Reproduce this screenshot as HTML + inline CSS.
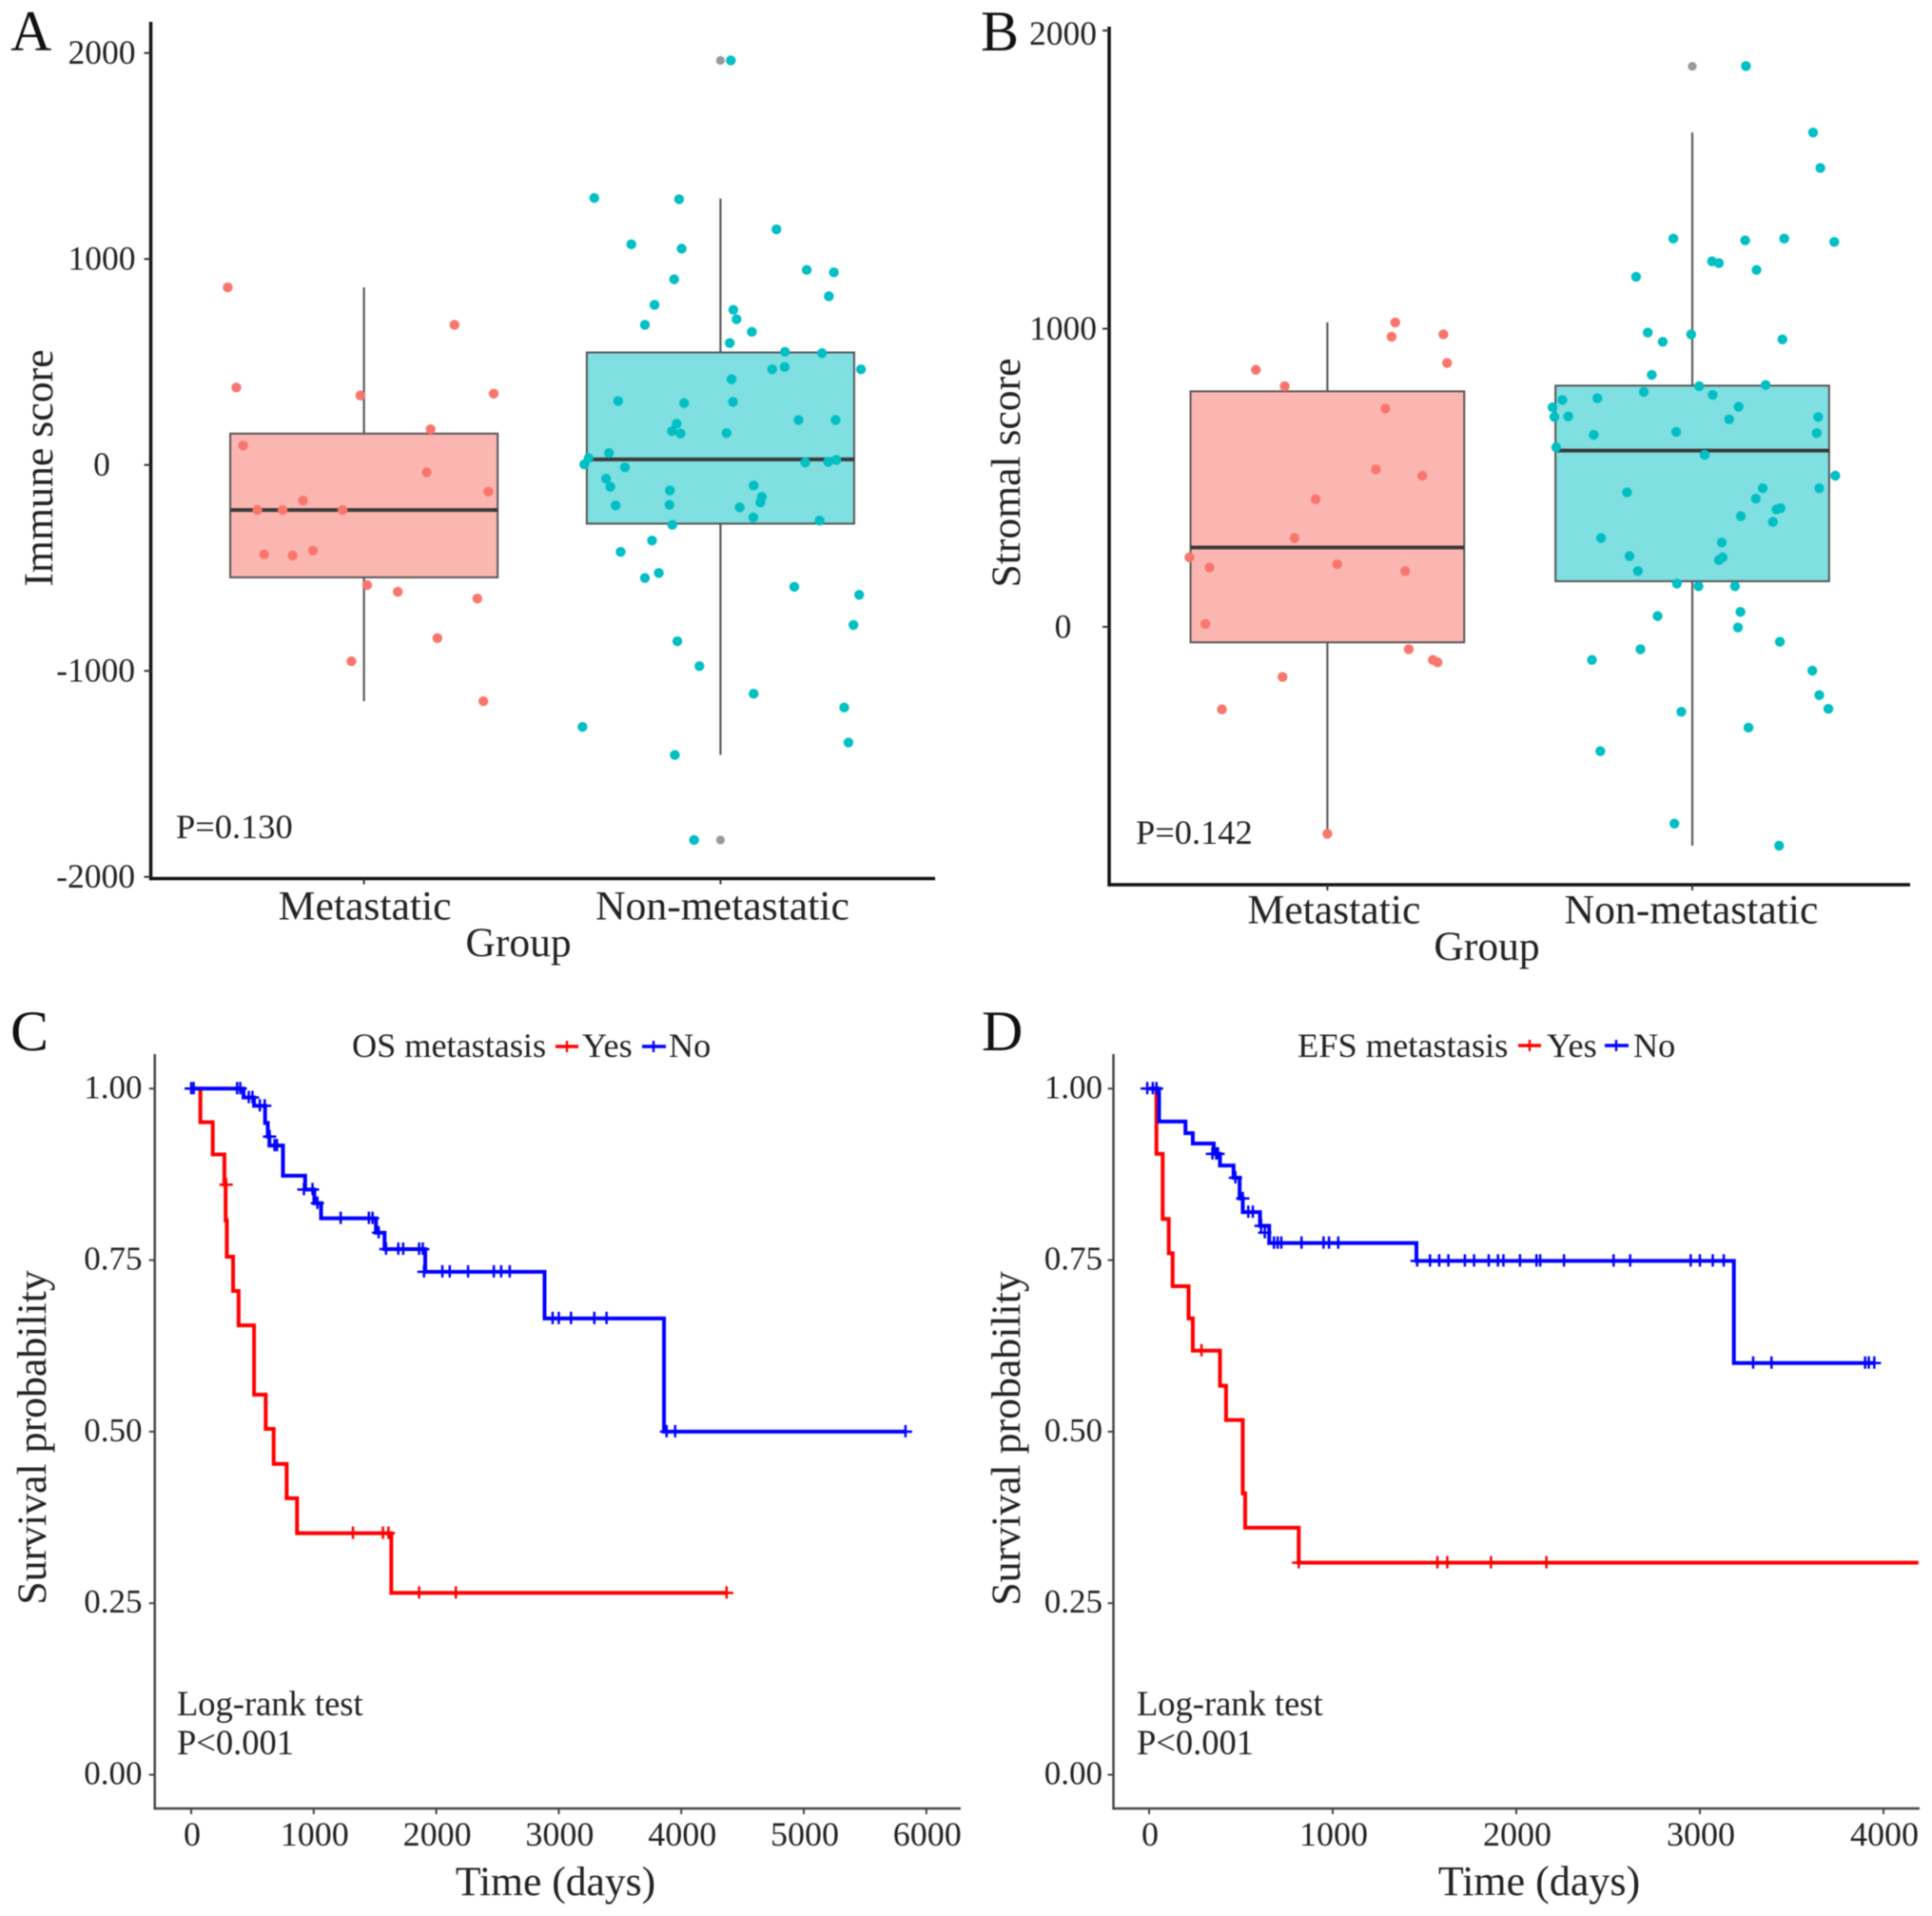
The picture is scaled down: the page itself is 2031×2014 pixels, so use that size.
<!DOCTYPE html>
<html lang="en">
<head>
<meta charset="utf-8">
<title>Immune and stromal scores and survival by metastasis</title>
<style>
html,body{margin:0;padding:0;background:#fff;}
svg{display:block;font-family:"Liberation Serif",serif;fill:#222;filter:blur(0.5px);}
</style>
</head>
<body>
<svg id="figure" width="2031" height="2014" viewBox="0 0 2031 2014" xmlns="http://www.w3.org/2000/svg">
  <rect width="2031" height="2014" fill="#fff"/>
  <text x="11" y="53" font-size="60" fill="#111">A</text>
  <text x="1031" y="53" font-size="60" fill="#111">B</text>
  <text x="11" y="1104" font-size="60" fill="#111">C</text>
  <text x="1032" y="1104" font-size="60" fill="#111">D</text>
  <text transform="translate(55,492) rotate(-90)" text-anchor="middle" font-size="43.8">Immune score</text>
  <text x="545" y="1005" text-anchor="middle" font-size="43.5">Group</text>
  <text x="185" y="881" font-size="36.4">P=0.130</text>
  <text transform="translate(1072,497) rotate(-90)" text-anchor="middle" font-size="43.6">Stromal score</text>
  <text x="1563" y="1009" text-anchor="middle" font-size="43.5">Group</text>
  <text x="1194" y="887" font-size="36.4">P=0.142</text>
  <text transform="translate(48,1511) rotate(-90)" text-anchor="middle" font-size="43.8">Survival probability</text>
  <text x="584" y="1992" text-anchor="middle" font-size="43.6">Time (days)</text>
  <text x="186" y="1803" font-size="36.5">Log-rank test</text>
  <text x="186" y="1844" font-size="36.5">P&lt;0.001</text>
  <text transform="translate(1072,1512) rotate(-90)" text-anchor="middle" font-size="43.8">Survival probability</text>
  <text x="1618" y="1992" text-anchor="middle" font-size="44">Time (days)</text>
  <text x="1195" y="1803" font-size="36.5">Log-rank test</text>
  <text x="1195" y="1844" font-size="36.5">P&lt;0.001</text>
  <g>
    <text x="370" y="1111" font-size="36.2">OS metastasis</text>
    <line x1="584" x2="608" y1="1100" y2="1100" stroke="#f00" stroke-width="3.5"/>
    <line x1="596" x2="596" y1="1094" y2="1106" stroke="#f00" stroke-width="2.4"/>
    <text x="612" y="1111" font-size="36.2">Yes</text>
    <line x1="675" x2="700" y1="1100" y2="1100" stroke="#00f" stroke-width="3.5"/>
    <line x1="687" x2="687" y1="1094" y2="1106" stroke="#00f" stroke-width="2.4"/>
    <text x="703" y="1111" font-size="36.2">No</text>
  </g>
  <g>
    <text x="1364" y="1111" font-size="36.4">EFS metastasis</text>
    <line x1="1596" x2="1620" y1="1099" y2="1099" stroke="#f00" stroke-width="3.5"/>
    <line x1="1608" x2="1608" y1="1093" y2="1105" stroke="#f00" stroke-width="2.4"/>
    <text x="1626" y="1111" font-size="36.2">Yes</text>
    <line x1="1687" x2="1712" y1="1099" y2="1099" stroke="#00f" stroke-width="3.5"/>
    <line x1="1699" x2="1699" y1="1093" y2="1105" stroke="#00f" stroke-width="2.4"/>
    <text x="1717" y="1111" font-size="36.2">No</text>
  </g>
</svg>
<script>
// ---------- Panel A: immune score ----------
const groupLabels = ['Metastatic', 'Non-metastatic'];
const immuneTicks = [2000, 1000, 0, -1000, -2000];
const immuneMetBox = [-1147, -546, -219, 152, 862];
const immuneNonBox = [-1408, -285, 27, 546, 1293];
const immuneNonOutliers = [1964, -1821];
const immuneMetJitter = [-.382,-.358,-.339,-.299,-.228,-.171,-.060,-.280,-.200,-.143,-.010,.364,.187,.254,.176,.349,.009,.095,.318,.206,-.035,.335];
const immuneMetScore = [862,376,94,-219,-219,-173,-219,-434,-440,-416,337,346,173,680,-36,-130,-583,-616,-649,-841,-953,-1147];
const immuneNonJitter = [.029,-.354,-.116,.157,-.250,-.109,.242,.318,-.130,.304,-.185,.036,.045,-.212,.088,.026,.181,.285,.394,.145,.180,.031,-.287,-.102,.035,.219,.323,-.123,-.136,-.112,.017,-.313,-.370,-.382,.238,.302,.325,-.268,-.321,-.309,.093,-.142,.116,.112,-.143,-.294,.054,.092,.278,-.135,-.192,-.280,-.173,-.212,.207,.389,.373,-.121,-.059,.093,.347,-.387,.359,-.128,-.074];
const immuneNonScore = [1964,1296,1290,1144,1071,1050,947,935,901,819,777,753,707,680,646,592,549,543,464,464,476,416,310,300,306,218,218,200,164,152,155,58,33,3,12,15,24,-12,-67,-106,-100,-124,-155,-182,-194,-197,-206,-255,-270,-291,-367,-422,-525,-549,-592,-631,-777,-856,-977,-1111,-1178,-1272,-1348,-1408,-1821];

// ---------- Panel B: stromal score ----------
const stromalTicks = [2000, 1000, 0];
const stromalMetBox = [-694, -52, 266, 790, 1021];
const stromalNonBox = [-734, 153, 591, 809, 1658];
const stromalNonOutliers = [1880];
const stromalMetJitter = [.186,.176,.318,.328,-.196,-.117,.159,.133,.260,-.032,-.090,-.378,-.323,.027,.213,-.334,.223,.289,.302,-.123,-.289,0];
const stromalMetScore = [1021,973,981,885,862,807,732,528,507,428,298,233,199,210,187,10,-75,-111,-119,-168,-277,-694];
const stromalNonJitter = [.147,.331,.351,-.052,.145,.252,.389,.054,.073,.176,-.154,-.122,-.003,-.081,.247,-.111,.019,.201,-.133,.056,-.260,-.356,-.383,.127,-.378,-.340,.345,.101,-.044,.341,-.270,-.373,.034,.392,.348,.193,-.179,.174,.242,.231,.133,.221,-.250,.081,.083,.073,-.172,-.149,-.042,.017,.117,.132,-.095,.125,.240,-.142,-.275,.329,.348,.373,-.030,.154,-.252,-.049,.238];
const stromalNonScore = [1881,1658,1539,1302,1296,1302,1291,1226,1220,1197,1174,987,981,956,964,845,807,811,788,778,767,761,736,738,704,706,704,696,654,650,644,602,577,507,465,465,451,430,398,394,371,352,298,283,233,224,237,187,145,136,136,50,36,-2,-50,-75,-111,-147,-229,-275,-285,-338,-417,-660,-734];

// ---------- Panel C: overall survival ----------
const survivalTicks = [1, 0.75, 0.5, 0.25, 0];
const osTimeTicks = [0, 1000, 2000, 3000, 4000, 5000, 6000];
const osYesTimes = [0,75,176,271,281,291,342,387,513,608,673,779,864,1633,4370];
const osYesSurv = [1,.951,.904,.860,.808,.755,.705,.655,.554,.504,.453,.403,.352,.265,.265];
const osYesCensorTimes = [285,1320,1565,1610,1860,2160,4370];
const osYesCensorSurv = [.860,.352,.352,.352,.265,.265,.265];
const osNoTimes = [0,427,513,603,625,638,749,930,1005,1060,1508,1578,1910,2884,3859,5830];
const osNoSurv = [1,.987,.975,.95,.93,.917,.873,.853,.833,.811,.79,.766,.733,.665,.5,.5];
const osNoCensorTimes = [0,20,375,400,470,500,560,600,640,680,700,920,990,1030,1220,1450,1480,1530,1590,1690,1730,1860,1890,1900,2050,2110,2260,2470,2530,2600,2950,3000,3100,3290,3390,3880,3950,5830];
const osNoCensorSurv = [1,1,1,1,.987,.987,.975,.975,.93,.917,.917,.853,.853,.833,.811,.811,.811,.79,.766,.766,.766,.766,.766,.733,.733,.733,.733,.733,.733,.733,.665,.665,.665,.665,.665,.5,.5,.5];

// ---------- Panel D: event-free survival ----------
const efsTimeTicks = [0, 1000, 2000, 3000, 4000];
const efsYesTimes = [0,40,74,107,128,215,238,386,419,510,523,815,4190];
const efsYesSurv = [1,.905,.81,.76,.712,.665,.618,.567,.517,.41,.36,.309,.309];
const efsYesCensorTimes = [285,815,1570,1624,1862,2164];
const efsYesCensorSurv = [.618,.309,.309,.309,.309,.309];
const efsNoTimes = [0,54,198,238,352,386,460,493,510,544,604,654,1456,3185,3950];
const efsNoSurv = [1,.952,.935,.92,.905,.888,.87,.84,.82,.82,.80,.775,.749,.6,.6];
const efsNoCensorTimes = [-10,20,40,345,365,375,470,510,540,565,610,630,680,700,720,830,950,980,1030,1460,1530,1580,1630,1720,1770,1850,1900,1930,2020,2110,2130,2260,2530,2620,2950,3000,3070,3130,3290,3390,3900,3920,3950];
const efsNoCensorSurv = [1,1,1,.905,.905,.905,.87,.84,.82,.82,.80,.79,.775,.775,.775,.775,.775,.775,.775,.749,.749,.749,.749,.749,.749,.749,.749,.749,.749,.749,.749,.749,.749,.749,.749,.749,.749,.749,.6,.6,.6,.6,.6];

const SVGNS = 'http://www.w3.org/2000/svg';
const figure = document.getElementById('figure');

function mk(tag, parent, attrs) {
  const el = document.createElementNS(SVGNS, tag);
  for (const k in attrs) el.setAttribute(k, attrs[k]);
  parent.appendChild(el);
  return el;
}

function drawLabel(parent, name, text, x, y, size, anchor) {
  const el = mk('text', parent, {x: x, y: y, 'font-size': size, 'text-anchor': anchor});
  el.textContent = text;
  
  
  return el;
}

function drawLine(parent, name, x1, y1, x2, y2, stroke, width) {
  const el = mk('line', parent, {x1: x1, y1: y1, x2: x2, y2: y2, stroke: stroke, 'stroke-width': width});
  
  
  return el;
}

function drawBox(parent, name, cx, halfWidth, stats, yScale, fill) {
  const g = mk('g', parent, {});
  
  
  drawLine(g, name + '-whisker', cx, yScale(stats[0]), cx, yScale(stats[4]), '#5a5a5a', 2.2);
  const r = mk('rect', g, {x: cx - halfWidth, y: yScale(stats[3]), width: 2 * halfWidth, height: yScale(stats[1]) - yScale(stats[3]), fill: fill, stroke: '#555', 'stroke-width': 2});
  
  
  drawLine(g, name + '-median', cx - halfWidth, yScale(stats[2]), cx + halfWidth, yScale(stats[2]), '#3a3a3a', 4);
}

function drawPoints(parent, name, cx, spacing, jitter, values, yScale, color) {
  const g = mk('g', parent, {});
  
  
  values.forEach(function (v, i) {
    const c = mk('circle', g, {cx: cx + jitter[i] * spacing, cy: yScale(v), r: 5.2, fill: color});
    
    
  });
}

function drawBoxPanel(p) {
  const g = mk('g', figure, {});
  
  
  const yScale = function (v) { return p.yZero - v * p.yUnit; };
  const xScale = function (i) { return p.xFirst + i * p.xStep; };
  const halfWidth = 0.375 * p.xStep;

  drawBox(g, p.name + '-metastatic-box', xScale(0), halfWidth, p.metBox, yScale, '#fcb6b1');
  drawBox(g, p.name + '-non-metastatic-box', xScale(1), halfWidth, p.nonBox, yScale, '#80dfe1');
  p.outliers.forEach(function (v) {
    const c = mk('circle', g, {cx: xScale(1), cy: yScale(v), r: 4.6, fill: '#999'});
    
    
  });
  drawPoints(g, p.name + '-metastatic', xScale(0), p.xStep, p.metJitter, p.metValues, yScale, '#f8766d');
  drawPoints(g, p.name + '-non-metastatic', xScale(1), p.xStep, p.nonJitter, p.nonValues, yScale, '#00bfc4');

  drawLine(g, p.name + '-y-axis', p.axisX, p.axisTop, p.axisX, p.axisY + 1.75, '#111', 3.5);
  drawLine(g, p.name + '-x-axis', p.axisX, p.axisY, p.axisRight, p.axisY, '#111', 3.5);

  p.ticks.forEach(function (v) {
    const y = yScale(v);
    drawLine(g, p.name + '-y-tick', p.axisX - 7, y, p.axisX, y, '#333', 2);
    const baseline = (p.name === 'stromal-panel' && v === 2000) ? 47 : y + p.tickDy;
    if (v < 0) drawLabel(g, p.name + '-y-tick-label', String(v), p.negLabelX, baseline, 35.5, 'end');
    else drawLabel(g, p.name + '-y-tick-label', String(v), p.posLabelX, baseline, 35.5, 'middle');
  });

  groupLabels.forEach(function (label, i) {
    drawLine(g, p.name + '-x-tick', xScale(i), p.axisY, xScale(i), p.axisY + 6, '#333', 2);
    drawLabel(g, p.name + '-x-tick-label', label, xScale(i) + p.catShift[i], p.catBaseline, 43.7, 'middle');
  });
}

function stepPath(times, surv, xScale, yScale) {
  let d = 'M' + xScale(times[0]) + ' ' + yScale(surv[0]);
  for (let i = 1; i < times.length; i++) {
    d += 'H' + xScale(times[i]) + 'V' + yScale(surv[i]);
  }
  return d;
}

function drawCurve(parent, name, times, surv, censorTimes, censorSurv, xScale, yScale, color) {
  const g = mk('g', parent, {});
  
  
  const path = mk('path', g, {d: stepPath(times, surv, xScale, yScale), fill: 'none', stroke: color, 'stroke-width': 4, 'stroke-linejoin': 'miter'});
  
  
  censorTimes.forEach(function (t, i) {
    const x = xScale(t);
    const y = yScale(censorSurv[i]);
    const mark = mk('path', g, {d: 'M' + (x - 7) + ' ' + y + 'H' + (x + 7) + 'M' + x + ' ' + (y - 7) + 'V' + (y + 6), fill: 'none', stroke: color, 'stroke-width': 2.5});
    
    
  });
}

function drawSurvivalPanel(p) {
  const g = mk('g', figure, {});
  
  
  const xScale = function (t) { return p.xZero + t * p.xUnit; };
  const yScale = function (s) { return p.yZero - s * p.yUnit; };

  drawCurve(g, p.name + '-yes-curve', p.yesTimes, p.yesSurv, p.yesCensorTimes, p.yesCensorSurv, xScale, yScale, '#f00');
  drawCurve(g, p.name + '-no-curve', p.noTimes, p.noSurv, p.noCensorTimes, p.noCensorSurv, xScale, yScale, '#00f');

  drawLine(g, p.name + '-y-axis', p.axisX, p.axisTop, p.axisX, p.axisY + 1.25, '#444', 2.5);
  drawLine(g, p.name + '-x-axis', p.axisX, p.axisY, p.axisRight, p.axisY, '#444', 2.5);

  survivalTicks.forEach(function (s) {
    const y = yScale(s);
    drawLine(g, p.name + '-y-tick', p.axisX - 6, y, p.axisX, y, '#444', 2);
    drawLabel(g, p.name + '-y-tick-label', s.toFixed(2), p.labelX, y + 10, 35, 'end');
  });
  p.timeTicks.forEach(function (t) {
    const x = xScale(t);
    drawLine(g, p.name + '-x-tick', x, p.axisY, x, p.axisY + 6, '#444', 2);
    drawLabel(g, p.name + '-x-tick-label', String(t), x + 1, 1940, 36, 'middle');
  });
}

drawBoxPanel({
  name: 'immune-panel', yZero: 488.7, yUnit: 0.2165, xFirst: 382.6, xStep: 374.8,
  axisX: 158.5, axisTop: 23, axisY: 923.5, axisRight: 983,
  posLabelX: 107, negLabelX: 142, catBaseline: 966.5, catShift: [1, 2], tickDy: 11.5,
  ticks: immuneTicks, metBox: immuneMetBox, nonBox: immuneNonBox, outliers: immuneNonOutliers,
  metJitter: immuneMetJitter, metValues: immuneMetScore, nonJitter: immuneNonJitter, nonValues: immuneNonScore
});
drawBoxPanel({
  name: 'stromal-panel', yZero: 658.9, yUnit: 0.3134, xFirst: 1395.4, xStep: 383.6,
  axisX: 1166, axisTop: 28, axisY: 930, axisRight: 2008,
  posLabelX: 1117.5, negLabelX: 1155, catBaseline: 970.5, catShift: [7, -1], tickDy: 11.5,
  ticks: stromalTicks, metBox: stromalMetBox, nonBox: stromalNonBox, outliers: stromalNonOutliers,
  metJitter: stromalMetJitter, metValues: stromalMetScore, nonJitter: stromalNonJitter, nonValues: stromalNonScore
});
drawSurvivalPanel({
  name: 'os-panel', xZero: 201, xUnit: 0.1288, yZero: 1865.5, yUnit: 721.2,
  axisX: 162.7, axisTop: 1108, axisY: 1901, axisRight: 1010, labelX: 149.5,
  timeTicks: osTimeTicks,
  yesTimes: osYesTimes, yesSurv: osYesSurv, yesCensorTimes: osYesCensorTimes, yesCensorSurv: osYesCensorSurv,
  noTimes: osNoTimes, noSurv: osNoSurv, noCensorTimes: osNoCensorTimes, noCensorSurv: osNoCensorSurv
});
drawSurvivalPanel({
  name: 'efs-panel', xZero: 1208, xUnit: 0.193, yZero: 1865.5, yUnit: 721.2,
  axisX: 1170.5, axisTop: 1108, axisY: 1901, axisRight: 2018, labelX: 1159,
  timeTicks: efsTimeTicks,
  yesTimes: efsYesTimes, yesSurv: efsYesSurv, yesCensorTimes: efsYesCensorTimes, yesCensorSurv: efsYesCensorSurv,
  noTimes: efsNoTimes, noSurv: efsNoSurv, noCensorTimes: efsNoCensorTimes, noCensorSurv: efsNoCensorSurv
});
</script>
</body>
</html>
